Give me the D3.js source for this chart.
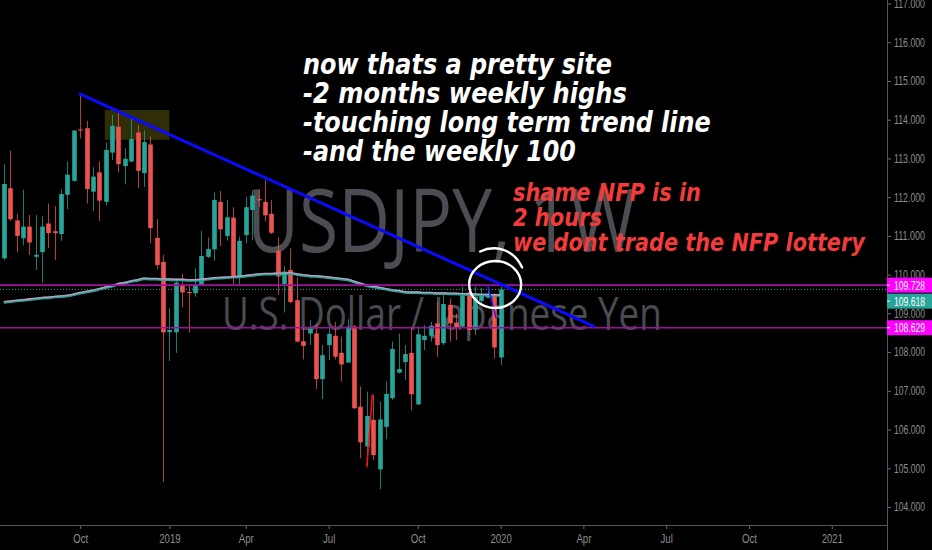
<!DOCTYPE html>
<html>
<head>
<meta charset="utf-8">
<script src="https://cdn.jsdelivr.net/npm/d3@7"></script>
<style>
  body { margin: 0; background: #000; overflow: hidden; }
  svg { display: block; }
</style>
</head>
<body>
<div id="chart"></div>
<script>
// weekly candles, Jul 9 2018 -> Jan 6 2020
const candleDates = d3.timeMonday.range(new Date(2018, 6, 9), new Date(2020, 0, 7))

const opens = [110.42,112.23,111.40,110.94,111.24,110.46,110.58,111.32,111.12,111.05,
  112.06,112.42,113.75,113.78,112.14,112.64,111.88,113.15,113.82,112.80,
  112.92,113.67,112.62,113.36,110.95,110.33,108.51,108.51,109.72,109.55,
  109.52,109.74,110.46,110.65,111.88,111.00,111.47,109.92,111.02,111.67,
  111.95,111.88,111.57,110.62,109.76,110.12,109.34,108.28,108.48,108.48,
  107.30,108.18,108.42,107.98,107.73,108.66,106.59,105.56,106.25,104.97,
  106.07,106.81,107.47,107.74,107.98,106.65,108.31,108.42,108.74,108.23,
  109.22,108.76,108.66,109.54,108.59,109.32,109.40,109.46,107.86]
const highs = [112.85,113.20,111.57,112.19,111.54,111.54,111.51,111.84,111.77,112.20,
  112.92,113.73,114.64,113.97,112.77,112.92,113.41,114.12,114.25,113.26,
  114.10,113.86,113.73,113.56,111.43,110.51,109.13,109.90,110.01,109.71,
  110.16,111.13,110.96,112.12,112.16,111.93,111.74,110.98,112.01,112.18,
  112.20,112.44,111.93,110.96,110.22,110.68,109.93,108.66,108.83,108.74,
  108.18,108.66,108.78,108.40,108.85,108.70,107.11,106.98,106.89,106.72,
  107.24,108.27,108.48,108.18,108.66,108.66,108.70,108.78,109.30,109.47,
  109.39,109.00,109.69,109.69,109.69,109.65,109.69,109.52,109.69]
const lows = [110.38,111.38,110.58,110.75,110.51,110.12,109.79,110.68,110.38,110.87,
  111.69,112.40,113.52,111.84,111.64,111.38,111.79,112.96,112.64,112.33,
  112.90,112.23,112.26,110.81,110.14,104.65,107.77,107.98,109.15,108.50,
  109.43,109.70,110.43,110.36,110.74,110.88,109.76,109.71,110.81,110.89,
  111.75,111.37,111.05,109.47,109.02,109.26,108.25,107.81,108.18,107.04,
  106.79,107.79,107.81,107.24,107.73,106.53,105.26,105.07,105.21,104.46,
  105.75,106.76,107.45,107.28,106.50,106.63,108.05,108.27,107.88,108.18,
  108.27,108.31,108.64,108.44,108.44,109.22,109.39,107.84,107.67]
const closes = [112.34,111.43,111.00,111.24,110.83,110.51,111.24,111.07,111.07,112.08,
  112.58,113.72,113.72,112.21,112.53,111.91,113.22,113.84,112.85,112.99,
  113.50,112.68,113.42,111.20,110.25,108.51,108.57,109.79,109.54,109.52,
  109.74,110.48,110.66,111.93,111.17,111.48,109.92,110.87,111.74,112.04,
  111.92,111.53,111.08,109.95,110.08,109.29,108.27,108.16,108.60,107.30,
  107.92,108.47,107.88,107.68,108.66,106.55,105.67,106.35,105.34,106.26,
  106.92,108.08,107.56,107.95,106.91,108.46,108.42,108.68,108.18,109.24,
  108.74,108.63,109.46,108.57,109.43,109.46,109.49,108.12,109.618]
// weekly 100 moving average
const ma100 = [109.28,109.30,109.32,109.33,109.35,109.37,109.39,109.40,109.42,109.43,
  109.45,109.48,109.52,109.55,109.58,109.62,109.66,109.70,109.75,109.78,
  109.82,109.85,109.89,109.88,109.88,109.87,109.87,109.86,109.86,109.85,
  109.85,109.86,109.88,109.90,109.91,109.92,109.93,109.94,109.96,109.98,
  110.00,110.01,110.01,110.02,110.02,110.03,110.00,109.98,109.96,109.95,
  109.94,109.92,109.90,109.88,109.86,109.81,109.76,109.71,109.68,109.65,
  109.62,109.59,109.57,109.54,109.53,109.53,109.52,109.52,109.51,109.51,
  109.50,109.50,109.49,109.49,109.48,109.47,109.47,109.46,109.46]

const yTicks = [104,105,106,107,108,109,110,111,112,113,114,115,116,117]
const xTickDates = ["2018-10-01","2019-01-07","2019-04-01","2019-07-01","2019-10-07",
  "2020-01-06","2020-04-06","2020-07-06","2020-10-05","2021-01-04"]
const xTickLabels = ["Oct","2019","Apr","Jul","Oct","2020","Apr","Jul","Oct","2021"]

const hLines = [109.728, 108.629]
const lastPrice = 109.618

// drawings
const trendLine = [["2018-10-01",114.66],["2020-04-17",108.67]]
const zoneBox = [["2018-10-28",114.25],["2019-01-07",113.48]]
const blueTick = [["2019-12-23",109.71],["2020-01-01",108.89]]
const redTick = [["2019-08-12",105.04],["2019-08-18",106.89]]
const circleAt = ["2019-12-31",109.745]

const whiteNote = ["now thats a pretty site","-2 months weekly highs","-touching long term trend line","-and the weekly 100"]
const redNote = ["shame NFP is in","2 hours","we dont trade the NFP lottery"]

const W = 932, H = 550, axisX = 887, axisY = 525
const parse = d3.timeParse("%Y-%m-%d")

const svg = d3.select("#chart").append("svg")
  .attr("width", W)
  .attr("height", H)
  .style("background", "#000")

const x = d3.scaleTime()
  .domain([new Date(2019,0,7), new Date(2020,0,6)])
  .range([169.4, 500.6])
const y = d3.scaleLinear()
  .domain([104, 117])
  .range([507, 3.5])

// squeeze a text horizontally to a given width (the screenshot is narrowed)
const fit = (sel, len) => {
  const L = sel.node().getComputedTextLength()
  const x0 = +sel.attr("x") || 0
  sel.attr("transform", `translate(${x0},0) scale(${len/L},1) translate(${-x0},0)`)
  return sel
}

// watermark
fit(svg.append("text")
  .attr("x", 247).attr("y", 252)
  .attr("font-family", "Open Sans").attr("font-size", 87)
  .attr("fill", "#4c4d52")
  .text("USDJPY, 1W"), 389)
fit(svg.append("text")
  .attr("x", 222).attr("y", 330)
  .attr("font-family", "Open Sans").attr("font-size", 45)
  .attr("fill", "#4a4b50")
  .text("U.S. Dollar / Japanese Yen"), 440)

// olive zone
svg.append("rect")
  .attr("x", x(parse(zoneBox[0][0])))
  .attr("y", y(zoneBox[0][1]))
  .attr("width", x(parse(zoneBox[1][0])) - x(parse(zoneBox[0][0])))
  .attr("height", y(zoneBox[1][1]) - y(zoneBox[0][1]))
  .attr("fill", "#302e06")

// candles
const candles = candleDates.map((d,i)=>({date:d, o:opens[i], h:highs[i], l:lows[i], c:closes[i]}))
const up = "#26a69a", down = "#ef5350"
const g = svg.append("g")
g.selectAll("line.wick")
  .data(candles)
  .enter().append("line")
  .attr("class","wick")
  .attr("x1", d=>Math.round(x(d.date))+0.5)
  .attr("x2", d=>Math.round(x(d.date))+0.5)
  .attr("y1", d=>y(d.h))
  .attr("y2", d=>y(d.l))
  .attr("stroke", d=>d.c>=d.o?up:down)
  .attr("stroke-opacity", 0.75)
  .attr("stroke-width", 1)
g.selectAll("rect.body")
  .data(candles)
  .enter().append("rect")
  .attr("class","body")
  .attr("x", d=>Math.round(x(d.date))+0.5-2.3)
  .attr("y", d=>y(Math.max(d.o,d.c)))
  .attr("width", 4.6)
  .attr("height", d=>Math.max(1.2, Math.abs(y(d.o)-y(d.c))))
  .attr("fill", d=>d.c>=d.o?up:down)

// moving average (teal with pink overlay)
const maLine = d3.line()
  .x((d,i)=>x(candleDates[i]))
  .y(d=>y(d))
  .curve(d3.curveMonotoneX)
svg.append("path").datum(ma100)
  .attr("d", maLine)
  .attr("fill","none").attr("stroke","#26a69a").attr("stroke-width",2.6)
svg.append("path").datum(ma100)
  .attr("d", maLine)
  .attr("transform","translate(0,-0.8)")
  .attr("fill","none").attr("stroke","#c99ac0").attr("stroke-width",1.3)

// horizontal levels
svg.selectAll("line.level")
  .data(hLines)
  .enter().append("line")
  .attr("class","level")
  .attr("x1",0).attr("x2",axisX)
  .attr("y1",d=>y(d)).attr("y2",d=>y(d))
  .attr("stroke","#a010a0").attr("stroke-width",1.6)
svg.append("line")
  .attr("x1",0).attr("x2",axisX)
  .attr("y1",y(lastPrice)).attr("y2",y(lastPrice))
  .attr("stroke","#26a69a").attr("stroke-width",1)
  .attr("stroke-dasharray","1,2")

// trend line and pen marks
const seg = (pts, color, w) => svg.append("line")
  .attr("x1", x(parse(pts[0][0]))).attr("y1", y(pts[0][1]))
  .attr("x2", x(parse(pts[1][0]))).attr("y2", y(pts[1][1]))
  .attr("stroke", color).attr("stroke-width", w)
  .attr("stroke-linecap","round")
seg(trendLine, "#0a0aff", 3)
seg(blueTick, "#1a1aff", 1.5)
seg(redTick, "#ff1010", 1.5)

const cx = x(parse(circleAt[0])), cy = y(circleAt[1])
svg.append("ellipse")
  .attr("cx", cx).attr("cy", cy)
  .attr("rx", 26).attr("ry", 23.5)
  .attr("fill","none").attr("stroke","#fff").attr("stroke-width",2.4)
svg.append("path")
  .attr("d", `M${cx-15},${cy-33} C${cx-3},${cy-39} ${cx+17},${cy-38} ${cx+27},${cy-17}`)
  .attr("fill","none").attr("stroke","#fff").attr("stroke-width",2.4)
  .attr("stroke-linecap","round")

// notes
const whiteLens = [309, 324, 408, 273]
whiteNote.forEach((t,i)=>{
  fit(svg.append("text")
    .attr("x", 303).attr("y", 74 + i*29)
    .attr("font-family","DejaVu Sans").attr("font-weight","bold").attr("font-style","italic")
    .attr("font-size", 28).attr("fill","#fff")
    .text(t), whiteLens[i])
})
const redLens = [188, 89, 352]
redNote.forEach((t,i)=>{
  fit(svg.append("text")
    .attr("x", 513).attr("y", 201 + i*25)
    .attr("font-family","DejaVu Sans").attr("font-weight","bold").attr("font-style","italic")
    .attr("font-size", 24).attr("fill","#f23c3c")
    .text(t), redLens[i])
})

// axes
const yAxis = d3.axisRight(y)
  .tickValues(yTicks)
  .tickSize(4)
  .tickPadding(3)
  .tickFormat(d3.format(".3f"))
const ya = svg.append("g")
  .attr("transform", `translate(${axisX},0)`)
  .call(yAxis)
ya.select(".domain").remove()
ya.selectAll("line").attr("stroke","#6a6a6a")
ya.selectAll("text")
  .attr("fill","#8e8e8e").attr("font-family","Liberation Sans").attr("font-size",12)
  .each(function(){ fit(d3.select(this), 31) })

const xAxis = d3.axisBottom(x)
  .tickValues(xTickDates.map(parse))
  .tickFormat((d,i)=>xTickLabels[i])
  .tickSize(4)
  .tickPadding(5)
const xa = svg.append("g")
  .attr("transform", `translate(0,${axisY})`)
  .call(xAxis)
xa.select(".domain").remove()
xa.selectAll("line").attr("stroke","#6a6a6a")
xa.selectAll("text")
  .attr("fill","#8e8e8e").attr("font-family","Liberation Sans").attr("font-size",12)
  .each(function(){ fit(d3.select(this), this.getComputedTextLength()*0.8) })

svg.append("line")
  .attr("x1",0).attr("x2",axisX).attr("y1",axisY+0.5).attr("y2",axisY+0.5)
  .attr("stroke","#555").attr("stroke-width",1)
svg.append("line")
  .attr("x1",axisX+0.5).attr("x2",axisX+0.5).attr("y1",0).attr("y2",H)
  .attr("stroke","#555").attr("stroke-width",1)

// price labels on the scale
const priceTags = [
  {v:hLines[0], fill:"#ff00ff"},
  {v:lastPrice, fill:"#26a69a"},
  {v:hLines[1], fill:"#ff00ff"}
]
let prevBottom = -Infinity
priceTags.forEach(p=>{
  let mid = Math.max(y(p.v), prevBottom + 8.5)
  prevBottom = mid + 7.5
  svg.append("rect")
    .attr("x", axisX).attr("y", mid-7.5)
    .attr("width", W-axisX).attr("height", 15)
    .attr("fill", p.fill)
  fit(svg.append("text")
    .attr("x", axisX+7).attr("y", mid).attr("dy","0.36em")
    .attr("fill","#fff").attr("font-family","Liberation Sans").attr("font-size",12.5)
    .text(d3.format(".3f")(p.v)), 31)
  svg.append("line")
    .attr("x1",axisX).attr("x2",axisX+3).attr("y1",mid).attr("y2",mid)
    .attr("stroke","#fff")
})
</script>
</body>
</html>
